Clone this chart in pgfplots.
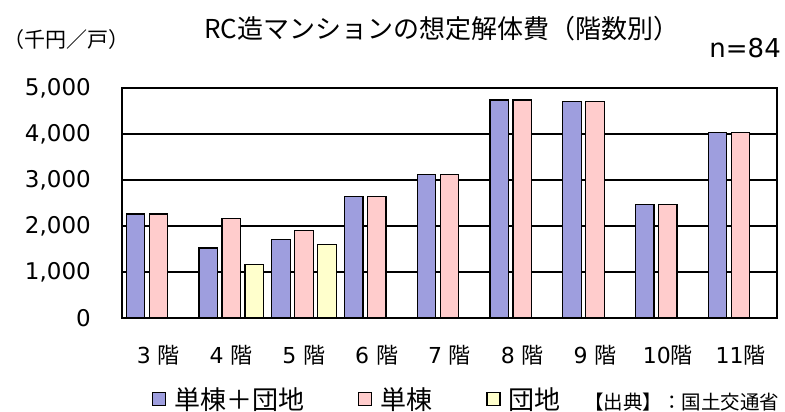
\documentclass[border=0pt]{standalone}
\usepackage{fontspec}
\setmainfont{DejaVu Sans}
\newfontfamily\jp{Noto Sans CJK JP}
\usepackage{pgfplots}
\pgfplotsset{compat=1.18}
\definecolor{cblue}{RGB}{158,158,222}
\definecolor{cpink}{RGB}{255,204,204}
\definecolor{cyellow}{RGB}{255,255,204}
\pgfplotsset{sqlegend/.style={legend image code/.code={\draw[##1, line width=1.2bp] (0bp,-6.5bp) rectangle (13bp,6.5bp);}}}
\begin{document}
\begin{tikzpicture}
\path[use as bounding box] (0,0) rectangle (785bp,412bp);
\begin{axis}[
  at={(122bp,94bp)}, anchor=south west,
  scale only axis, width=655bp, height=230bp,
  ybar=4.5bp, bar width=18.5bp,
  xmin=-0.5, xmax=8.5, ymin=0, ymax=5000,
  xtick={0,...,8},
  xticklabels={{3 {\jp 階}},{4 {\jp 階}},{5 {\jp 階}},{6 {\jp 階}},{7 {\jp 階}},{8 {\jp 階}},{9 {\jp 階}},{10{\jp 階}},{11{\jp 階}}},
  ytick={0,1000,...,5000},
  ymajorgrids, grid style={black, line width=1.4bp},
  axis line style={black, line width=1.8bp},
  major tick length=0pt,
  /pgf/number format/assume math mode=true,
  /pgf/number format/1000 sep={,},
  scaled y ticks=false,
  yticklabel style={font=\fontsize{23bp}{27bp}\selectfont, inner sep=0pt, anchor=east, xshift=-31bp},
  xticklabel style={font=\fontsize{22bp}{26bp}\selectfont, inner sep=0pt, anchor=center, yshift=-37bp},
  sqlegend,
  legend columns=3,
  legend cell align=left,
  legend style={draw=none, fill=none, at={(axis description cs:0.0458,-0.352)}, anchor=west,
    inner sep=0pt, outer sep=0pt, font=\jp\fontsize{26bp}{30bp}\selectfont,
    nodes={inner sep=0pt},
    /tikz/every odd column/.append style={column sep=8bp},
    /tikz/every even column/.append style={column sep=54bp}},
]
\addplot[fill=cblue, draw=black, line width=1.2bp, sqlegend] coordinates {(0,2260) (1,1520) (2,1700) (3,2650) (4,3120) (5,4740) (6,4700) (7,2460) (8,4030)};
\addplot[fill=cpink, draw=black, line width=1.2bp, sqlegend] coordinates {(0,2260) (1,2170) (2,1900) (3,2650) (4,3120) (5,4740) (6,4700) (7,2460) (8,4030)};
\addplot[fill=cyellow, draw=black, line width=1.2bp, sqlegend] coordinates {(1,1160) (2,1590)};
\legend{単棟＋団地,単棟,団地}
\end{axis}
\node[font=\jp\fontsize{26bp}{30bp}\selectfont, anchor=west, inner sep=0pt] at (204bp,383bp) {RC造マンションの想定解体費（階数別）};
\node[font=\jp\fontsize{21bp}{25bp}\selectfont, anchor=west, inner sep=0pt] at (3bp,372bp) {（千円／戸）};
\node[font=\fontsize{26bp}{30bp}\selectfont, anchor=east, inner sep=0pt] at (781bp,364bp) {n=84};
\node[font=\jp\fontsize{19.5bp}{23bp}\selectfont, anchor=west, inner sep=0pt] at (584bp,10bp) {【出典】：国土交通省};
\end{tikzpicture}
\end{document}
